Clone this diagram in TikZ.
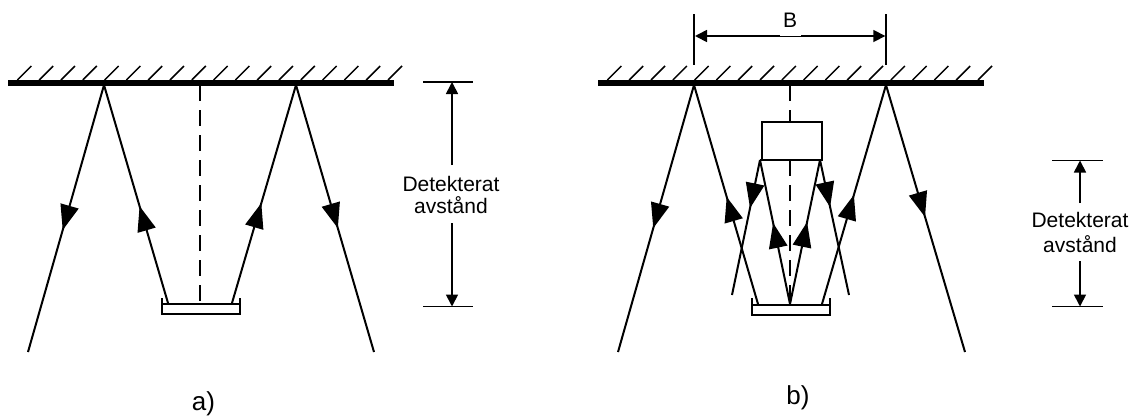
\documentclass[tikz,border=0pt]{standalone}
\usepackage{fontspec}
\setmainfont{Liberation Sans}
\usetikzlibrary{arrows.meta,decorations.markings}
\tikzset{
  thinline/.style={line width=2pt,line cap=butt},
  ceiling/.style={line width=5.5pt},
  hatch/.style={line width=1.5pt},
  centreline/.style={line width=2pt,dash pattern=on 16pt off 9pt},
  dimline/.style={line width=1.7pt},
  dimtip/.style={{Triangle[length=12pt,width=12pt]}-{Triangle[length=12pt,width=12pt]}},
  endtip/.style={-{Triangle[length=12pt,width=12pt]}},
  lbl/.style={font=\fontsize{21}{22}\selectfont,align=center,inner sep=0pt},
  caption/.style={font=\fontsize{26}{28}\selectfont,inner sep=0pt,anchor=base},
  ray/.style={thinline,postaction={decorate},decoration={markings,
     mark=at position #1 with {\arrow[line width=0pt]{Triangle[length=25pt,width=19pt]}}}},
  device/.style={draw,thinline,fill=white,inner sep=0pt,minimum width=60pt,minimum height=38pt},
}
\begin{document}
\begin{tikzpicture}[x=1pt,y=-1pt]
\useasboundingbox (0,0) rectangle (1132,416);
% ---------- a) ----------
\foreach \i in {0,...,17}{\draw[hatch] ({17.4+21.8*\i},80) -- ++(14,-14);}
\coordinate (aC1) at (8,82.8); \coordinate (aC2) at (394,82.8);
\draw[ceiling] (aC1) -- (aC2);
\coordinate (aP) at (104,85); \coordinate (aQ) at (296,85);
\coordinate (aL) at (28,352); \coordinate (aR) at (374,352);
\coordinate (aT1) at (168,303); \coordinate (aT2) at (232,303);
\coordinate (aTop) at (200,85); \coordinate (aBot) at (200,303);
\draw[centreline] (aTop) -- (aBot);
\draw[thinline] (162,298) -- (162,314) -- (240,314) -- (240,298) (162,304) -- (240,304);
\draw[ray=0.543] (aP) -- (aL);
\draw[ray=0.444] (aT1) -- (aP);
\draw[ray=0.458] (aT2) -- (aQ);
\draw[ray=0.536] (aQ) -- (aR);
\coordinate (aD1) at (452,82); \coordinate (aD2) at (452,306.5);
\draw[dimline] (423,82) -- (473,82) (423,306.5) -- (473,306.5);
\node[lbl] (aDim) at (451,194.5) {Detekterat\\avstånd};
\draw[dimline,endtip] (452,165) -- (aD1);
\draw[dimline,endtip] (452,223) -- (aD2);
\node[caption] (aName) at (203.5,410.5) {a)};
% ---------- b) ----------
\foreach \i in {0,...,17}{\draw[hatch] ({607.4+21.8*\i},80) -- ++(14,-14);}
\coordinate (bC1) at (598,82.8); \coordinate (bC2) at (984,82.8);
\draw[ceiling] (bC1) -- (bC2);
\coordinate (bP) at (694,85); \coordinate (bQ) at (886,85);
\coordinate (bL) at (618,352); \coordinate (bR) at (965,352);
\coordinate (bT1) at (758,304); \coordinate (bT2) at (822,304);
\coordinate (bTop) at (790,85); \coordinate (bBot) at (790,304);
\draw[centreline] (bTop) -- (bBot);
\node[device] (box) at (792,141) {};
\draw[thinline] (752,298) -- (752,315) -- (830,315) -- (830,298) (752,305) -- (830,305);
\coordinate (bS1) at (760,160); \coordinate (bS2) at (820,160);
\coordinate (bE1) at (732,295); \coordinate (bE2) at (849,295);
\coordinate (bM) at (790,304);
\draw[thinline] (bS1) -- (bS2);
\draw[ray=0.536] (bP) -- (bL);
\draw[ray=0.489] (bT1) -- (bP);
\draw[ray=0.498] (bT2) -- (bQ);
\draw[ray=0.494] (bQ) -- (bR);
\draw[ray=0.356] (bS1) -- (bE1);
\draw[ray=0.348] (bS2) -- (bE2);
\draw[ray=0.5625] (bM) -- (bS1);
\draw[ray=0.569] (bM) -- (bS2);
% B dimension
\coordinate (bB1) at (694.3,14); \coordinate (bB2) at (694.3,65);
\coordinate (bB3) at (886,14); \coordinate (bB4) at (886,65);
\draw[line width=2pt] (bB1) -- (bB2) (bB3) -- (bB4);
\coordinate (bA1) at (695,36); \coordinate (bA2) at (885.3,36);
\draw[dimline,dimtip] (bA1) -- (bA2);
\node[lbl,fill=white,text width=21pt,text depth=8.5pt,anchor=base] (bLab) at (790,27) {B};
% right dimension
\coordinate (bD1) at (1080,160.5); \coordinate (bD2) at (1080,306.5);
\draw[dimline] (1052,160.5) -- (1103,160.5) (1052,306.5) -- (1103,306.5);
\node[lbl] (bDim) at (1080,232) {Detekterat\\[3pt]avstånd};
\draw[dimline,endtip] (1080,203) -- (bD1);
\draw[dimline,endtip] (1080,261) -- (bD2);
\node[caption] (bName) at (798,404) {b)};
\end{tikzpicture}
\end{document}
